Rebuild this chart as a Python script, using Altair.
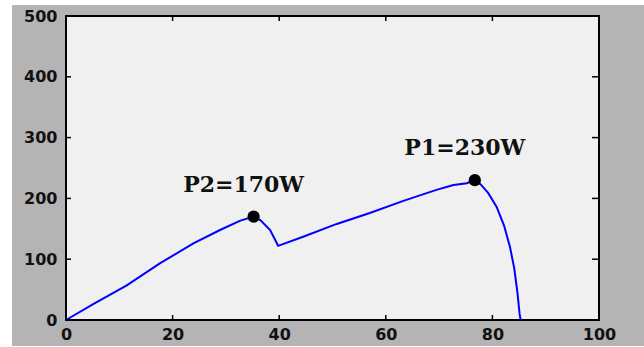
import altair as alt
import pandas as pd

# P-V curve of a partially shaded PV string (two local maxima)
voltage = [0, 5.1, 11.4, 17.6, 23.9, 28.9, 32.6, 35.2, 36.5, 38.3, 39.8, 44.5, 50.8,
           57, 63.3, 69.5, 72.7, 75.2, 76.7, 77.8, 79.2, 80.8, 82.2, 83.3, 84.1, 84.7,
           85.1, 85.3]
power = [0, 26, 57, 93, 126, 148, 163, 170, 164, 148, 122, 137, 158,
         176, 196, 214, 222, 225, 230, 223, 209, 186, 155, 120, 85, 45,
         10, 0]

peak_v = [35.2, 76.7]
peak_p = [170, 230]
peak_names = ["P2", "P1"]

x_ticks = [0, 20, 40, 60, 80, 100]
y_ticks = [0, 100, 200, 300, 400, 500]

W, H = 533, 304

curve_df = pd.DataFrame({"V": voltage, "P": power})
peak_df = pd.DataFrame({"V": peak_v, "P": peak_p, "name": peak_names})
peak_df["label"] = [f"{n}={p}W" for n, p in zip(peak_names, peak_p)]
xt_df = pd.DataFrame({"v": x_ticks})
yt_df = pd.DataFrame({"v": y_ticks})

xs = alt.Scale(domain=[0, 100], nice=False, zero=False)
ys = alt.Scale(domain=[0, 500], nice=False, zero=False)

label_font = "DejaVu Sans"
x_axis = alt.Axis(values=x_ticks, ticks=False, tickSize=0, domain=False, grid=False,
                  labelFont=label_font, labelFontWeight="bold", labelFontSize=16,
                  labelColor="#111111", labelPadding=6, labelFlush=False,
                  title=None, zindex=2)
y_axis = alt.Axis(values=y_ticks, ticks=False, tickSize=0, domain=False, grid=False,
                  labelFont=label_font, labelFontWeight="bold", labelFontSize=16,
                  labelColor="#111111", labelPadding=9, labelFlush=False,
                  title=None, zindex=2)

# gray figure backdrop and the framed axes box
backdrop = alt.Chart(curve_df).mark_rect(color="#b4b4b4").encode(
    x=alt.value(-54), x2=alt.value(W + 45), y=alt.value(-11), y2=alt.value(H + 26)
).transform_filter("datum.V == 0")
axes_box = alt.Chart(curve_df).mark_rect(fill="#f0f0f0", stroke="black", strokeWidth=2).encode(
    x=alt.value(0), x2=alt.value(W), y=alt.value(0), y2=alt.value(H)
).transform_filter("datum.V == 0")

curve = alt.Chart(curve_df).mark_line(color="#0000ff", strokeWidth=2).encode(
    x=alt.X("V:Q", scale=xs, axis=x_axis),
    y=alt.Y("P:Q", scale=ys, axis=y_axis),
)

dots = alt.Chart(peak_df).mark_point(filled=True, color="black", size=150, opacity=1).encode(
    x=alt.X("V:Q", scale=xs), y=alt.Y("P:Q", scale=ys)
)

labels = alt.Chart(peak_df).mark_text(
    font="DejaVu Serif", fontWeight="bold", fontSize=22, color="#111111",
    align="center", baseline="middle", dx=-10, dy=-32
).encode(x=alt.X("V:Q", scale=xs), y=alt.Y("P:Q", scale=ys), text="label:N")

# inward-pointing ticks on all four sides
tick_style = dict(color="black", strokeWidth=1.5)
xb = alt.Chart(xt_df).mark_rule(**tick_style).encode(
    x=alt.X("v:Q", scale=xs), y=alt.value(H), y2=alt.value(H - 5))
xt = alt.Chart(xt_df).mark_rule(**tick_style).encode(
    x=alt.X("v:Q", scale=xs), y=alt.value(0), y2=alt.value(5))
yl = alt.Chart(yt_df).mark_rule(**tick_style).encode(
    y=alt.Y("v:Q", scale=ys), x=alt.value(0), x2=alt.value(5))
yr = alt.Chart(yt_df).mark_rule(**tick_style).encode(
    y=alt.Y("v:Q", scale=ys), x=alt.value(W), x2=alt.value(W - 7))

chart = alt.layer(backdrop, axes_box, curve, xb, xt, yl, yr, dots, labels).properties(
    width=W, height=H,
    padding={"left": 66, "top": 16, "right": 45, "bottom": 27},
    autosize=alt.AutoSizeParams(type="none"),
    background="white",
).configure_view(stroke=None)

chart.save("out.html", embed_options={"renderer": "svg", "actions": False})
